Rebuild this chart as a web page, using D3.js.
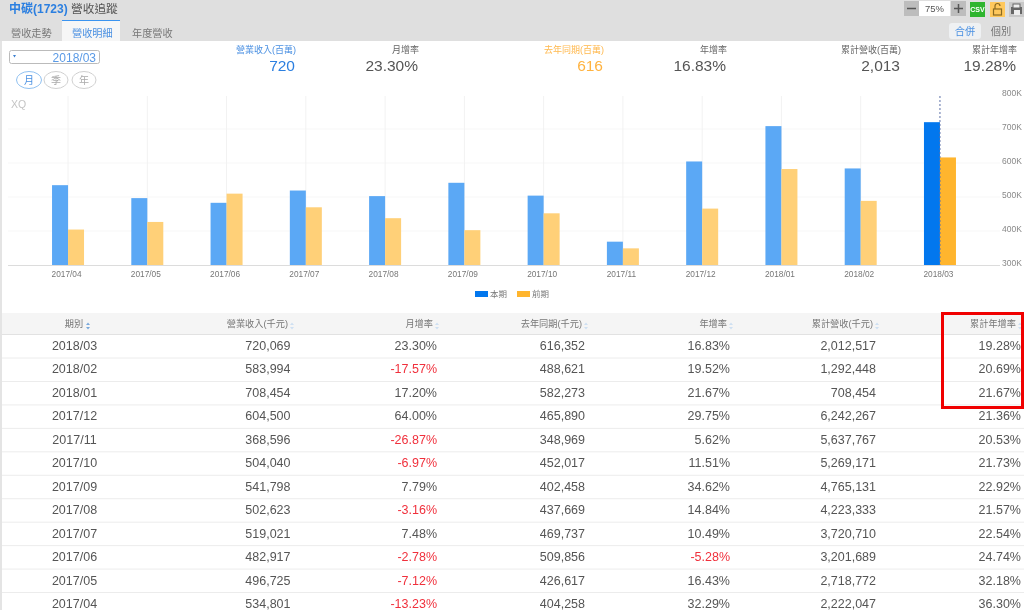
<!DOCTYPE html>
<html>
<head>
<meta charset="utf-8">
<script src="https://cdn.jsdelivr.net/npm/d3@7"></script>
<style>
html,body{margin:0;padding:0;background:#fff;overflow:hidden}
svg{display:block;filter:blur(0.35px)}
text{font-family:"Liberation Sans","Noto Sans CJK TC",sans-serif}
</style>
</head>
<body>
<div id="chart1"></div>
<script>
//table rows: period, revenue, month growth, last year, year growth, cumulative, cumulative growth
var rows = [
  ['2018/03',720069,'23.30%',616352,'16.83%',2012517,'19.28%'],
  ['2018/02',583994,'-17.57%',488621,'19.52%',1292448,'20.69%'],
  ['2018/01',708454,'17.20%',582273,'21.67%',708454,'21.67%'],
  ['2017/12',604500,'64.00%',465890,'29.75%',6242267,'21.36%'],
  ['2017/11',368596,'-26.87%',348969,'5.62%',5637767,'20.53%'],
  ['2017/10',504040,'-6.97%',452017,'11.51%',5269171,'21.73%'],
  ['2017/09',541798,'7.79%',402458,'34.62%',4765131,'22.92%'],
  ['2017/08',502623,'-3.16%',437669,'14.84%',4223333,'21.57%'],
  ['2017/07',519021,'7.48%',469737,'10.49%',3720710,'22.54%'],
  ['2017/06',482917,'-2.78%',509856,'-5.28%',3201689,'24.74%'],
  ['2017/05',496725,'-7.12%',426617,'16.43%',2718772,'32.18%'],
  ['2017/04',534801,'-13.23%',404258,'32.29%',2222047,'36.30%']
];
var chartData = rows.slice().reverse();

var svg = d3.select('#chart1').append('svg').attr('width',1024).attr('height',610);
var fmt = d3.format(',');

function label(x,y,str,size,color,anchor){
  return svg.append('text').attr('x',x).attr('y',y).attr('font-size',size)
    .attr('fill',color).attr('text-anchor',anchor||'start').text(str);
}
function box(x,y,w,h,color){
  return svg.append('rect').attr('x',x).attr('y',y).attr('width',w).attr('height',h).attr('fill',color);
}

//=================================================>Top bar section
box(0,0,1024,41,'#dfdfdf');
box(0,41,2,569,'#e4e4e4');
svg.append('text').attr('x',9).attr('y',13).attr('font-size',12).attr('font-weight','bold').attr('fill','#2b7fe0').text('中碳(1723)');
label(71,13,'營收追蹤',11.7,'#555');
box(62,20,58,21,'#f6f6f6');
box(62,20,58,1,'#3b94f0');
label(11,37,'營收走勢',10.2,'#777');
label(72,37,'營收明細',10.2,'#4a90e2');
label(132,37,'年度營收',10.2,'#777');

//zoom, csv and print buttons
box(904,1,15,15,'#bdbdbd');
box(919,1,31,15,'#fff');
box(951,1,15,15,'#bdbdbd');
svg.append('path').attr('d','M907 8.5h9M954 8.5h9M958.5 4v9').attr('stroke','#555').attr('stroke-width',1.5);
label(934.5,12,'75%',9.5,'#555','middle');
box(970,2,15,15,'#2fb52f');
label(977.5,12,'CSV',7,'#fff','middle').attr('font-weight','bold');
box(990,2,15,15,'#ffc85c');
svg.append('rect').attr('x',993.5).attr('y',9).attr('width',8).attr('height',6).attr('fill','none').attr('stroke','#8a6a20').attr('stroke-width',1.2);
svg.append('path').attr('d','M995 9v-3a2.5 2.5 0 0 1 5 0').attr('fill','none').attr('stroke','#8a6a20').attr('stroke-width',1.2);
box(1009,2,15,15,'#c8c8c8');
svg.append('rect').attr('x',1011).attr('y',7).attr('width',11).attr('height',7).attr('fill','#666');
svg.append('rect').attr('x',1013).attr('y',4).attr('width',7).attr('height',4).attr('fill','#eee').attr('stroke','#666');
svg.append('rect').attr('x',1014).attr('y',10).attr('width',6).attr('height',5).attr('fill','#eee');

svg.append('rect').attr('x',949).attr('y',23).attr('width',32).attr('height',16).attr('rx',3).attr('fill','#eff1f3');
label(965,35,'合併',10.2,'#4a90e2','middle');
label(1001,35,'個別',10.2,'#777','middle');

//=================================================>Summary section
svg.append('rect').attr('x',9.5).attr('y',50.5).attr('width',90).attr('height',13).attr('rx',2).attr('fill','#fff').attr('stroke','#bbb');
svg.append('path').attr('d','M13 55h3l-1.5 2.5z').attr('fill','#3b7fd0');
label(96,61.5,'2018/03',12,'#5a9ae6','end');

[['月',29,'#4a90e2','#8fc0f0'],['季',56,'#aaa','#d0d0d0'],['年',84,'#aaa','#d0d0d0']].forEach(function(b){
  svg.append('ellipse').attr('cx',b[1]).attr('cy',80).attr('rx',b[1]==29?12.5:12).attr('ry',8.5)
    .attr('fill','#fff').attr('stroke',b[3]);
  label(b[1],84,b[0],10,b[2],'middle');
});

var summary = [
  [296,'營業收入(百萬)','720','#4a90e2','#2b7fe0'],
  [419,'月增率','23.30%','#666','#555'],
  [604,'去年同期(百萬)','616','#ffb84d','#ffb340'],
  [727,'年增率','16.83%','#666','#555'],
  [901,'累計營收(百萬)','2,013','#666','#555'],
  [1017,'累計年增率','19.28%','#666','#555']
];
summary.forEach(function(s){
  label(s[0],53,s[1],9,s[3],'end');
  label(s[0]-1,71,s[2],15.5,s[4],'end');
});

//=================================================>Chart section
var x = d3.scaleBand().domain(chartData.map(function(d){ return d[0]; })).range([28.4,979.6]);
var y = d3.scaleLinear().domain([300000,800000]).range([265,95]);
var barW = 16;

var yTicks = [400000,500000,600000,700000];
svg.append('g').selectAll('line').data(yTicks).enter().append('line')
  .attr('x1',8).attr('x2',1000).attr('y1',y).attr('y2',y).attr('stroke','#f7f7f7');
svg.append('g').selectAll('line').data(chartData.slice(0,-1)).enter().append('line')
  .attr('x1',function(d){ return x(d[0])+x.bandwidth()/2; })
  .attr('x2',function(d){ return x(d[0])+x.bandwidth()/2; })
  .attr('y1',96).attr('y2',265).attr('stroke','#f2f2f2');

label(11,108,'XQ',10.5,'#c4c4c4');

var last = chartData[chartData.length-1][0];
var group = svg.append('g').selectAll('g').data(chartData).enter().append('g')
  .attr('transform',function(d){ return 'translate('+(x(d[0])+x.bandwidth()/2)+',0)'; });
group.append('rect').attr('x',-barW).attr('width',barW)
  .attr('y',function(d){ return y(d[1]); })
  .attr('height',function(d){ return y.range()[0]-y(d[1]); })
  .attr('fill',function(d){ return d[0]==last ? '#0277ee' : '#5ba8f5'; });
group.append('rect').attr('x',0).attr('width',barW)
  .attr('y',function(d){ return y(d[3]); })
  .attr('height',function(d){ return y.range()[0]-y(d[3]); })
  .attr('fill',function(d){ return d[0]==last ? '#ffb52e' : '#ffd078'; });

var xc = x(last)+x.bandwidth()/2;
svg.append('line').attr('x1',xc).attr('x2',xc).attr('y1',96).attr('y2',265)
  .attr('stroke','#5a6fa8').attr('stroke-dasharray','2,2');

var xAxis = d3.axisBottom(x).tickSize(0).tickPadding(5);
var gx = svg.append('g').attr('transform','translate(-1.5,266)').call(xAxis);
gx.select('.domain').remove();
gx.selectAll('text').attr('font-size',8.3).attr('fill','#777').attr('font-family','"Liberation Sans",sans-serif');
svg.append('line').attr('x1',8).attr('x2',1000).attr('y1',265.5).attr('y2',265.5).attr('stroke','#dcdcdc');

var yAxis = d3.axisRight(y).tickValues([300000,400000,500000,600000,700000,800000])
  .tickSize(0).tickPadding(0).tickFormat(function(d){ return d/1000+'K'; });
var gy = svg.append('g').attr('transform','translate(1002,-2)').call(yAxis);
gy.select('.domain').remove();
gy.selectAll('text').attr('font-size',8.5).attr('fill','#888').attr('font-family','"Liberation Sans",sans-serif');

//legend
box(475,291,13,6,'#0277ee');
label(490,297,'本期',8.5,'#777');
box(517,291,13,6,'#ffb52e');
label(532,297,'前期',8.5,'#777');

//=================================================>Table section
var headers = [
  ['期別',74,'middle'],['營業收入(千元)',288,'end'],['月增率',433,'end'],
  ['去年同期(千元)',582,'end'],['年增率',727,'end'],['累計營收(千元)',873,'end'],['累計年增率',1016,'end']
];
var rightEdge = [74.5,290.5,437,585,730,876,1021];

box(2,313,1022,21,'#f5f5f5');
svg.append('line').attr('x1',2).attr('x2',1024).attr('y1',334.5).attr('y2',334.5).attr('stroke','#e2e2e2');
headers.forEach(function(h,i){
  label(h[1],327,h[0],9.2,'#777',h[2]);
  var hx = i==0 ? 88 : h[1]+4;
  svg.append('path').attr('d','M'+(hx-2)+' 325l2 -2.5l2 2.5zM'+(hx-2)+' 327l2 2.5l2 -2.5z')
    .attr('fill',i==0?'#7aa9dc':'#cfe0f2');
});

var rowY = d3.scaleLinear().domain([0,11]).range([345.5,603.5]);
var tr = svg.append('g').selectAll('g').data(rows).enter().append('g')
  .attr('transform',function(d,i){ return 'translate(0,'+rowY(i)+')'; });
tr.append('line').attr('x1',2).attr('x2',1024).attr('y1',12.5).attr('y2',12.5).attr('stroke','#ececec');
tr.selectAll('text').data(function(d){ return d; }).enter().append('text')
  .attr('x',function(d,i){ return rightEdge[i]; })
  .attr('y',4.5)
  .attr('font-size',12.5)
  .attr('text-anchor',function(d,i){ return i==0 ? 'middle' : 'end'; })
  .attr('fill',function(d){ return (typeof d=='string' && d.charAt(0)=='-') ? '#f0303c' : '#555'; })
  .text(function(d){ return typeof d=='number' ? fmt(d) : d; });

//red highlight
svg.append('rect').attr('x',942.5).attr('y',313.5).attr('width',80).attr('height',94)
  .attr('fill','none').attr('stroke','#f00000').attr('stroke-width',3);
</script>
</body>
</html>
